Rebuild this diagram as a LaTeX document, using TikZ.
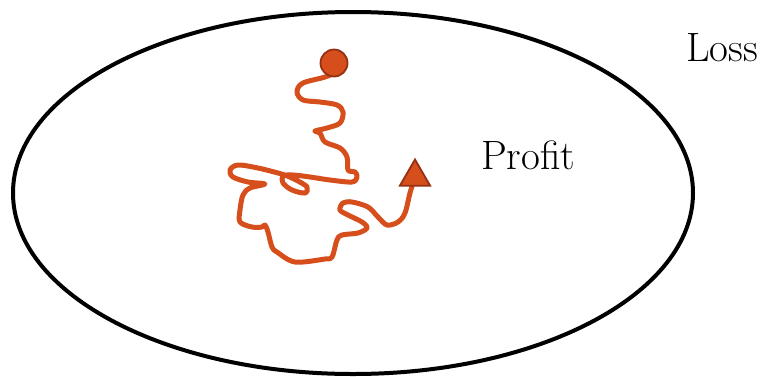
\documentclass[tikz,border=0pt]{standalone}
\usepackage{tikz}
\usetikzlibrary{shapes.geometric}
\pgfdeclarelayer{back}
\pgfsetlayers{back,main}
\definecolor{walk}{RGB}{214,78,28}
\definecolor{walkdark}{RGB}{150,48,18}

\begin{document}
\begin{tikzpicture}[x=1pt,y=-1pt,
    label/.style={anchor=base west, inner sep=0pt, font=\fontsize{41}{43}\selectfont},
    marker/.style={fill=walk, draw=walkdark, line width=1.8pt, inner sep=0pt}]
\useasboundingbox (0,0) rectangle (763,376);

\node[label] (profit) at (481,169) {Profit};
\node[label] (loss) at (686,61) {Loss};

  \draw[line width=4pt] (353,193) ellipse (340 and 181);

  \node[marker, circle, minimum size=27pt] (start) at (334,63) {};
  \node[marker, regular polygon, regular polygon sides=3, minimum size=35pt] (goal) at (415,177) {};

\begin{pgfonlayer}{back}
  \draw[walk, line width=5pt, line cap=round, line join=round]
    plot[smooth, tension=0.55] coordinates {(start.center) (330,75) (303,83) (297,92) (303,100)
      (320,102) (337,105) (343,112) (340,123) (327,128) (315,131) (320,133) (325,142)
      (340,148) (347,157) (348,170) (355,172) (357,177) (352,182) (330,180) (310,177)
      (293,175) (283,176) (283,183) (292,190) (305,193) (307,187) (298,181) (285,175)
      (278,173) (258,168) (238,165) (230,170) (233,177) (248,182) (265,184) (250,188)
      (243,195) (240,210) (240,222) (252,227) (262,227) (265,225) (268,232) (272,247)
      (277,252) (295,262) (325,259) (332,257) (337,240) (342,235) (358,233) (367,228)
      (362,222) (348,215) (340,210) (343,203) (352,202) (368,207) (378,217) (387,225)
      (398,222) (405,213) (410,193) (goal.center)};
\end{pgfonlayer}
\end{tikzpicture}
\end{document}
